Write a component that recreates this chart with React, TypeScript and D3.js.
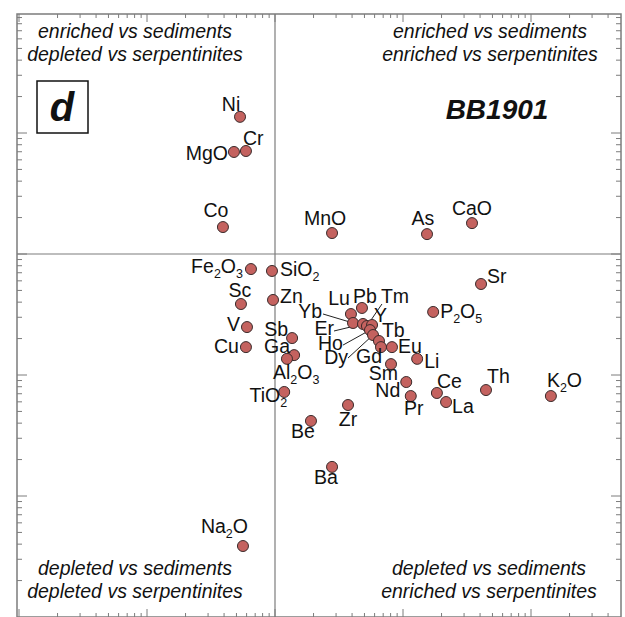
import React from 'react'
import * as d3 from 'd3'

// element ratios: x = sample / serpentinites, y = sample / sediments
const elements = ['Ni', 'Cr', 'MgO', 'Co', 'MnO', 'As', 'CaO', 'Fe2O3', 'SiO2', 'Sc', 'Zn', 'V', 'Cu', 'Sb', 'Ga', 'Al2O3', 'TiO2', 'Be', 'Na2O', 'Sr', 'P2O5', 'Lu', 'Pb', 'Yb', 'Er', 'Tm', 'Y', 'Ho', 'Dy', 'Tb', 'Gd', 'Eu', 'Sm', 'Li', 'Nd', 'Pr', 'Ce', 'La', 'Th', 'K2O', 'Zr', 'Ba']
const vsSerpentinites = [0.533, 0.593, 0.478, 0.392, 2.79, 15.4, 34.6, 0.649, 0.947, 0.542, 0.965, 0.604, 0.593, 1.36, 1.41, 1.24, 1.18, 1.91, 0.562, 40.7, 17.2, 3.92, 4.78, 4.07, 4.87, 5.23, 5.73, 5.52, 5.83, 6.49, 6.73, 8.2, 8.06, 12.9, 10.6, 11.5, 18.4, 21.7, 44.5, 143, 3.72, 2.79]
const vsSediments = [13.6, 7.1, 6.97, 1.67, 1.49, 1.46, 1.8, 0.751, 0.724, 0.386, 0.417, 0.249, 0.17, 0.202, 0.146, 0.136, 0.0724, 0.0417, 0.00386, 0.565, 0.332, 0.319, 0.358, 0.269, 0.264, 0.254, 0.259, 0.235, 0.214, 0.191, 0.17, 0.17, 0.123, 0.136, 0.0875, 0.067, 0.071, 0.0598, 0.0751, 0.067, 0.0565, 0.0174]

const quadrantNotes = [
  ['enriched vs sediments', 'depleted vs serpentinites'],
  ['enriched vs sediments', 'enriched vs serpentinites'],
  ['depleted vs sediments', 'depleted vs serpentinites'],
  ['depleted vs sediments', 'enriched vs serpentinites'],
]
const panelLetter = 'd'
const sampleName = 'BB1901'

// label placement: anchor, dx, dy (baseline) relative to the point
const labelPos: Record<string, [string, number, number]> = {
  Ni: ['middle', -9, -6], Cr: ['start', -3, -6], MgO: ['end', -6, 8], Co: ['middle', -7, -10],
  MnO: ['middle', -7, -8], As: ['middle', -4, -9], CaO: ['middle', 0, -8],
  Fe2O3: ['end', -8, 4], SiO2: ['start', 8, 5], Sc: ['middle', -1, -7], Zn: ['start', 7, 3],
  V: ['end', -7, 4], Cu: ['end', -7, 6], Sb: ['end', -4, -2], Ga: ['end', -4, -2],
  Al2O3: ['start', -14, 20], TiO2: ['end', 3, 10], Be: ['end', 4, 17], Na2O: ['end', 5, -13],
  Sr: ['start', 6, -1], P2O5: ['start', 7, 6], Lu: ['end', -1, -9], Pb: ['start', -9, -5],
  Yb: ['end', -31, -5], Er: ['end', -29, 11], Tm: ['start', 14, -23], Y: ['start', 2, -3],
  Ho: ['end', -27, 20], Dy: ['end', -25, 29], Tb: ['start', 3, -4], Gd: ['end', 1, 16],
  Eu: ['start', 6, 6], Sm: ['end', 7, 16], Li: ['start', 7, 9], Nd: ['end', -6, 15],
  Pr: ['middle', 3, 19], Ce: ['start', 0, -5], La: ['start', 6, 11], Th: ['start', 1, -7],
  K2O: ['start', -4, -9], Zr: ['middle', 0, 21], Ba: ['middle', -6, 17],
}
// leader lines start (relative to the point)
const leaders: Record<string, [number, number]> = {
  Yb: [-30, -9], Er: [-29, 7], Ho: [-27, 15], Dy: [-25, 23], Tm: [15, -22],
}

const W = 625
const H = 617
const frame = { left: 17, right: 621, top: 14, bottom: 617 }
const font = '"Liberation Sans", Arial, sans-serif'
const gray = '#7c7c7c'

const x = d3.scaleLog().domain([0.01, 1000]).range([19, 659])
const y = d3.scaleLog().domain([0.001, 100]).range([617, 12])

const isMajor = (v: number) => Math.abs(Math.log10(v) - Math.round(Math.log10(v))) < 1e-6

const Label = ({ text }: { text: string }) => {
  const parts = text.split(/(\d+)/).filter((p) => p !== '')
  let sub = false
  return (
    <>
      {parts.map((p, i) => {
        const digit = /^\d+$/.test(p)
        const dy = digit && !sub ? 5 : !digit && sub ? -5 : 0
        sub = digit
        return (
          <tspan key={i} dy={dy} fontSize={digit ? 12.5 : 19.5}>
            {p}
          </tspan>
        )
      })}
    </>
  )
}

const App = () => {
  const xTicks = x.ticks().filter((v) => x(v) > frame.left + 1 && x(v) < frame.right - 1)
  const yTicks = y.ticks().filter((v) => y(v) > frame.top + 1 && y(v) < frame.bottom - 1)
  const data = elements.map((e, i) => ({ e, xv: vsSerpentinites[i], yv: vsSediments[i] }))
  const notePos = [
    [135, 38], [490, 38], [135, 575], [489, 575],
  ]

  return (
    <svg width={W} height={H} style={{ position: 'absolute', left: 0, top: 0, background: '#fff' }} fontFamily={font}>
      {/* crosshair at ratio 1 */}
      <line x1={x(1)} x2={x(1)} y1={frame.top} y2={frame.bottom} stroke={gray} strokeWidth={1.2} />
      <line x1={frame.left} x2={frame.right} y1={y(1)} y2={y(1)} stroke={gray} strokeWidth={1.2} />

      {/* frame */}
      <rect x={frame.left} y={frame.top} width={frame.right - frame.left} height={frame.bottom - frame.top}
        fill="none" stroke={gray} strokeWidth={1.5} />

      {/* ticks */}
      {xTicks.map((v, i) => {
        const len = isMajor(v) ? 8 : 4
        return (
          <g key={'x' + i} stroke={gray} strokeWidth={1}>
            <line x1={x(v)} x2={x(v)} y1={frame.top} y2={frame.top + len} />
            <line x1={x(v)} x2={x(v)} y1={frame.bottom} y2={frame.bottom - len} />
          </g>
        )
      })}
      {yTicks.map((v, i) => {
        const len = isMajor(v) ? 10 : 5
        return (
          <g key={'y' + i} stroke={gray} strokeWidth={1}>
            <line x1={frame.left} x2={frame.left + len} y1={y(v)} y2={y(v)} />
            <line x1={frame.right} x2={frame.right - len} y1={y(v)} y2={y(v)} />
          </g>
        )
      })}

      {/* quadrant notes */}
      {quadrantNotes.map((lines, i) => (
        <text key={'q' + i} x={notePos[i][0]} y={notePos[i][1]} textAnchor="middle" fontStyle="italic" fontSize={19.5} fill="#111">
          <tspan x={notePos[i][0]}>{lines[0]}</tspan>
          <tspan x={notePos[i][0]} dy={23}>{lines[1]}</tspan>
        </text>
      ))}

      {/* panel letter + sample */}
      <rect x={37} y={81} width={51} height={52} fill="none" stroke="#111" strokeWidth={1.5} />
      <text x={62} y={121} textAnchor="middle" fontWeight="bold" fontStyle="italic" fontSize={40} fill="#111">{panelLetter}</text>
      <text x={497} y={119} textAnchor="middle" fontWeight="bold" fontStyle="italic" fontSize={28} fill="#111">{sampleName}</text>

      {/* leader lines */}
      {data.filter((d) => leaders[d.e]).map((d) => (
        <line key={'l' + d.e} x1={x(d.xv) + leaders[d.e][0]} y1={y(d.yv) + leaders[d.e][1]}
          x2={x(d.xv)} y2={y(d.yv)} stroke="#222" strokeWidth={1} />
      ))}

      {/* points */}
      {data.map((d) => (
        <circle key={'c' + d.e} cx={x(d.xv)} cy={y(d.yv)} r={5.5} fill="#c4625f" stroke="#3a2a2a" strokeWidth={1} />
      ))}

      {/* labels */}
      {data.map((d) => {
        const [anchor, dx, dy] = labelPos[d.e]
        return (
          <text key={'t' + d.e} x={x(d.xv) + dx} y={y(d.yv) + dy} textAnchor={anchor} fontSize={19.5} fill="#111">
            <Label text={d.e} />
          </text>
        )
      })}
    </svg>
  )
}

export default App
